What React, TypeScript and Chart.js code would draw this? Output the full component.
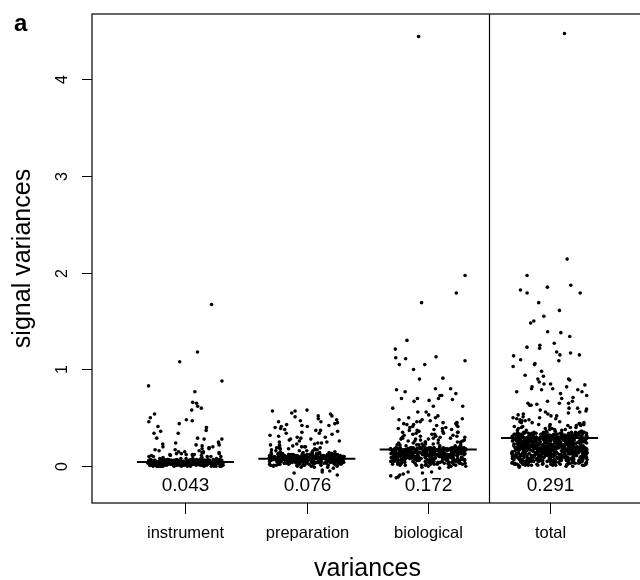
import React, { useEffect, useRef } from "react";
import { Chart, registerables } from "chart.js";

Chart.register(...registerables);

const categories = ["instrument", "preparation", "biological", "total"];
const medians = [0.043, 0.076, 0.172, 0.291];
const medianLabels = ["0.043", "0.076", "0.172", "0.291"];
const yTicks = [0, 1, 2, 3, 4];

const instrumentValues = [
  1.67, 1.18, 1.08, 0.88, 0.83, 0.77, 0.66, 0.65, 0.62, 0.6, 0.58, 0.54, 0.5, 0.48, 0.47, 0.46, 0.44, 0.41, 0.4, 0.37,
  0.36, 0.34, 0.34, 0.29, 0.29, 0.28, 0.28, 0.25, 0.24, 0.24, 0.23, 0.22, 0.22, 0.21, 0.2, 0.2, 0.19, 0.19, 0.18, 0.18,
  0.17, 0.17, 0.16, 0.16, 0.15, 0.15, 0.15, 0.14, 0.14, 0.14, 0.13, 0.13, 0.13, 0.12, 0.12, 0.12, 0.12, 0.11, 0.11, 0.11,
  0.11, 0.1, 0.1, 0.1, 0.1, 0.1,
  0.03, 0.01, 0.05, 0.02, 0.04, 0.06, 0.0, 0.03, 0.07, 0.02, 0.05, 0.01, 0.04, 0.03, 0.08, 0.02, 0.06, 0.01, 0.04, 0.05,
  0.02, 0.04, 0.0, 0.06, 0.03, 0.01, 0.05, 0.07, 0.02, 0.04, 0.03, 0.05, 0.01, 0.06, 0.02, 0.09, 0.04, 0.0, 0.03, 0.05,
  0.06, 0.02, 0.04, 0.01, 0.05, 0.03, 0.07, 0.02, 0.04, 0.06, 0.0, 0.03, 0.05, 0.02, 0.04, 0.01, 0.06, 0.03, 0.08, 0.02,
  0.04, 0.05, 0.01, 0.03, 0.06, 0.02, 0.04, 0.0, 0.05, 0.03, 0.07, 0.01, 0.04, 0.02, 0.06, 0.03, 0.05, 0.01, 0.04, 0.02,
  0.03, 0.06, 0.02, 0.05, 0.0, 0.04, 0.01, 0.07, 0.03, 0.05, 0.02, 0.04, 0.06, 0.01, 0.03, 0.08, 0.02, 0.05, 0.04, 0.0,
  0.05, 0.01, 0.04, 0.03, 0.06, 0.02, 0.05, 0.03, 0.01, 0.07, 0.04, 0.02, 0.05, 0.0, 0.03, 0.06, 0.04, 0.01, 0.02, 0.05,
  0.02, 0.04, 0.06, 0.01, 0.03, 0.05, 0.0, 0.04, 0.02, 0.06, 0.03, 0.07, 0.01, 0.05, 0.02, 0.04, 0.03, 0.09, 0.02, 0.06,
  0.04, 0.0, 0.03, 0.05, 0.02, 0.06, 0.01, 0.04, 0.03, 0.05, 0.02, 0.07, 0.04, 0.01, 0.06, 0.03, 0.0, 0.05, 0.02, 0.04,
  0.01, 0.05, 0.03, 0.02, 0.06, 0.04, 0.0, 0.03, 0.05, 0.01, 0.04, 0.02, 0.06, 0.03, 0.08, 0.01, 0.05, 0.02, 0.04, 0.03,
  0.06, 0.02, 0.04, 0.01, 0.03, 0.05, 0.02, 0.07, 0.0, 0.04, 0.03, 0.06, 0.01, 0.05, 0.02, 0.04, 0.03, 0.01, 0.06, 0.02,
  0.03, 0.05, 0.0, 0.04, 0.02, 0.06, 0.01, 0.03, 0.05, 0.04, 0.02, 0.07, 0.03, 0.0, 0.05, 0.01, 0.04, 0.06, 0.02, 0.03,
  0.05, 0.02, 0.04, 0.07, 0.01, 0.03, 0.06, 0.0, 0.04, 0.02, 0.05, 0.03, 0.01, 0.06, 0.04, 0.02, 0.08, 0.03, 0.05, 0.01,
  0.04, 0.03, 0.06, 0.02, 0.05, 0.0, 0.03, 0.04, 0.01, 0.06, 0.02, 0.05, 0.03, 0.07, 0.01, 0.04, 0.02, 0.05, 0.03, 0.06,
  0.02, 0.05, 0.03, 0.06, 0.01, 0.04, 0.07, 0.02, 0.05, 0.0, 0.03, 0.06, 0.04, 0.01, 0.05, 0.02, 0.04, 0.08, 0.03, 0.06,
  0.04, 0.01, 0.05, 0.03, 0.06, 0.02, 0.04, 0.0, 0.07, 0.03, 0.05, 0.02, 0.06, 0.04, 0.01, 0.03, 0.05, 0.02, 0.04, 0.06,
];

const preparationValues = [
  0.58, 0.57, 0.57, 0.55, 0.54, 0.52, 0.52, 0.51, 0.49, 0.48, 0.47, 0.46, 0.46, 0.45, 0.44, 0.43, 0.42, 0.42, 0.41, 0.41,
  0.4, 0.39, 0.38, 0.37, 0.37, 0.36, 0.35, 0.34, 0.34, 0.33, 0.32, 0.31, 0.3, 0.3, 0.29, 0.28, 0.28, 0.27, 0.26, 0.26,
  0.25, 0.25, 0.24, 0.24, 0.23, 0.23, 0.22, 0.22, 0.21, 0.21, 0.2, 0.2, 0.2, 0.19, 0.19, 0.19, 0.18, 0.18, 0.18, 0.17,
  0.17, 0.17, 0.16, 0.16, 0.16, 0.16,
  0.07, 0.04, 0.1, 0.02, 0.08, 0.12, 0.05, 0.09, 0.01, 0.06, 0.11, 0.03, 0.08, 0.13, 0.06, 0.0, 0.09, 0.04, 0.07, 0.14,
  0.05, 0.1, 0.02, 0.08, 0.06, 0.12, -0.01, 0.07, 0.09, 0.04, 0.11, 0.06, 0.03, 0.08, 0.15, 0.05, 0.1, 0.01, 0.07, 0.09,
  0.12, 0.06, 0.04, 0.09, 0.02, 0.08, 0.11, 0.05, 0.07, 0.13, 0.03, 0.1, 0.06, 0.08, 0.0, 0.09, 0.05, 0.12, 0.07, 0.04,
  0.08, 0.03, 0.11, 0.06, 0.09, 0.01, 0.07, 0.14, 0.05, 0.1, 0.04, 0.08, 0.12, 0.06, -0.02, 0.09, 0.07, 0.03, 0.11, 0.05,
  0.1, 0.07, 0.02, 0.08, 0.13, 0.05, 0.09, 0.06, 0.11, 0.03, 0.07, 0.1, 0.04, 0.08, 0.06, 0.12, 0.01, 0.09, 0.05, 0.07,
  0.06, 0.11, 0.08, 0.04, 0.1, 0.07, 0.02, 0.09, 0.12, 0.05, 0.08, 0.0, 0.06, 0.11, 0.07, 0.03, 0.1, 0.08, 0.14, 0.04,
  0.09, 0.05, 0.07, 0.12, 0.03, 0.08, 0.1, 0.06, 0.01, 0.09, 0.07, 0.13, 0.04, 0.08, 0.11, 0.05, 0.07, 0.02, 0.1, 0.06,
  0.04, 0.08, 0.11, 0.06, 0.09, -0.01, 0.07, 0.05, 0.12, 0.08, 0.03, 0.1, 0.06, 0.09, 0.07, 0.15, 0.04, 0.08, 0.11, 0.05,
  0.07, 0.1, 0.03, 0.09, 0.06, 0.12, 0.08, 0.02, 0.07, 0.11, 0.05, 0.09, 0.04, 0.08, 0.13, 0.06, 0.1, 0.01, 0.07, 0.09,
  0.11, 0.05, 0.08, 0.06, 0.1, 0.03, 0.09, 0.07, 0.12, 0.04, 0.08, 0.06, 0.14, 0.09, 0.0, 0.07, 0.1, 0.05, 0.08, 0.12,
  0.06, 0.09, 0.04, 0.11, 0.07, 0.08, 0.02, 0.1, 0.05, 0.09, 0.13, 0.06, 0.08, 0.03, 0.11, 0.07, 0.09, 0.04, 0.1, 0.06,
  0.08, 0.12, 0.05, 0.07, 0.1, 0.01, 0.09, 0.06, 0.11, 0.08, 0.04, 0.07, 0.12, 0.05, 0.09, 0.03, 0.08, 0.1, 0.06, 0.07,
  0.09, 0.04, 0.1, 0.07, 0.13, 0.06, 0.08, 0.02, 0.11, 0.05, 0.09, 0.07, -0.01, 0.1, 0.06, 0.08, 0.12, 0.04, 0.09, 0.07,
  0.08, 0.05, 0.11, 0.03, 0.09, 0.07, 0.13, 0.06, 0.1, 0.02, 0.08, 0.12, 0.04, 0.09, 0.06, 0.11, 0.07, 0.14, 0.05, 0.1,
  0.06, 0.09, 0.12, 0.04, 0.08, 0.01, 0.1, 0.07, 0.13, 0.05, 0.09, 0.11, 0.03, 0.08, 0.06, 0.12, 0.07, 0.1, 0.04, 0.09,
  0.11, 0.07, 0.05, 0.1, 0.08, 0.13, 0.02, 0.09, 0.06, 0.12, 0.08, 0.04, 0.11, 0.07, 0.1, 0.05, 0.09, 0.14, 0.06, 0.08,
  -0.05, -0.06, -0.09, -0.04, -0.07,
];

const biologicalValues = [
  4.44, 1.97, 1.79, 1.69, 1.3, 1.21, 1.13, 1.12, 1.11, 1.09, 1.05, 1.05, 1.0, 0.91, 0.9, 0.8, 0.8, 0.79, 0.77, 0.75,
  0.73, 0.73, 0.7, 0.7, 0.7, 0.69, 0.68, 0.67, 0.62, 0.62, 0.6, 0.56, 0.56, 0.53, 0.52, 0.5, 0.5, 0.49, 0.48, 0.48,
  0.47, 0.46, 0.46, 0.45, 0.45, 0.44, 0.44, 0.43, 0.43, 0.42, 0.42, 0.41, 0.41, 0.4, 0.4, 0.39, 0.39, 0.38, 0.38, 0.37,
  0.37, 0.36, 0.36, 0.35, 0.35, 0.35, 0.34, 0.34, 0.33, 0.33, 0.33, 0.32, 0.32, 0.31, 0.31, 0.31, 0.3, 0.3, 0.3, 0.29,
  0.29, 0.29, 0.28, 0.28, 0.28, 0.27, 0.27, 0.27, 0.26, 0.26, 0.26, 0.25, 0.25, 0.25, 0.25, 0.24, 0.24, 0.24, 0.23, 0.23,
  0.23, 0.23, 0.22, 0.22, 0.22, 0.22, 0.21, 0.21, 0.21, 0.21,
  0.1, 0.04, 0.15, 0.07, 0.18, 0.02, 0.12, 0.09, 0.16, 0.05, 0.13, 0.0, 0.11, 0.19, 0.06, 0.14, 0.08, 0.03, 0.17, 0.1,
  0.06, 0.13, 0.01, 0.16, 0.09, 0.12, 0.04, 0.18, 0.07, 0.15, 0.11, -0.01, 0.14, 0.08, 0.19, 0.05, 0.1, 0.17, 0.02, 0.12,
  0.15, 0.08, 0.11, 0.03, 0.17, 0.06, 0.13, 0.1, 0.2, 0.04, 0.14, 0.09, 0.16, 0.01, 0.12, 0.07, 0.18, 0.11, 0.05, 0.15,
  0.09, 0.16, 0.04, 0.12, 0.19, 0.07, 0.14, 0.02, 0.1, 0.17, 0.06, 0.13, 0.08, 0.15, -0.02, 0.11, 0.18, 0.05, 0.14, 0.09,
  0.13, 0.03, 0.17, 0.1, 0.06, 0.15, 0.12, 0.08, 0.19, 0.01, 0.14, 0.11, 0.05, 0.16, 0.09, 0.18, 0.04, 0.12, 0.07, 0.2,
  0.07, 0.14, 0.11, 0.18, 0.02, 0.16, 0.09, 0.13, 0.06, 0.19, 0.1, 0.03, 0.15, 0.12, 0.08, 0.17, 0.0, 0.13, 0.1, 0.16,
  0.18, 0.05, 0.12, 0.09, 0.15, 0.07, 0.19, 0.11, 0.04, 0.14, 0.17, 0.08, 0.13, 0.01, 0.16, 0.1, 0.06, 0.18, 0.12, 0.09,
  0.11, 0.16, 0.02, 0.14, 0.08, 0.17, 0.12, 0.05, 0.19, 0.1, 0.15, 0.07, 0.13, 0.18, 0.03, 0.11, 0.16, 0.09, 0.14, 0.06,
  0.16, 0.1, 0.13, 0.07, 0.18, 0.04, 0.15, 0.11, 0.19, 0.08, 0.12, 0.17, 0.0, 0.14, 0.09, 0.16, 0.06, 0.13, 0.18, 0.11,
  0.04, 0.12, 0.17, 0.09, 0.14, 0.19, 0.06, 0.15, 0.1, 0.02, 0.18, 0.13, 0.08, 0.16, 0.11, 0.05, 0.14, 0.19, 0.07, 0.12,
  0.17, 0.08, 0.15, 0.12, 0.03, 0.18, 0.1, 0.14, 0.16, 0.07, 0.13, 0.19, 0.09, 0.11, 0.17, 0.01, 0.15, 0.12, 0.08, 0.18,
  0.13, 0.19, 0.06, 0.16, 0.11, 0.14, 0.17, 0.09, 0.12, 0.18, 0.05, 0.15, 0.1, 0.19, 0.13, 0.16, 0.08, 0.17, 0.14, 0.11,
  0.14, 0.05, 0.17, 0.1, 0.19, 0.02, 0.13, 0.08, 0.16, 0.11, 0.04, 0.18, 0.07, 0.15, 0.12, 0.0, 0.17, 0.09, 0.14, 0.06,
  0.11, 0.18, 0.03, 0.15, 0.09, 0.13, 0.19, 0.06, 0.12, 0.16, 0.01, 0.14, 0.1, 0.17, 0.05, 0.12, 0.18, 0.08, 0.15, 0.11,
  0.16, 0.07, 0.13, 0.19, 0.04, 0.1, 0.15, 0.12, 0.18, 0.02, 0.14, 0.09, 0.17, 0.06, 0.13, 0.19, 0.11, 0.03, 0.16, 0.08,
  0.09, 0.15, 0.12, 0.06, 0.18, 0.14, -0.01, 0.11, 0.17, 0.07, 0.13, 0.19, 0.05, 0.16, 0.1, 0.14, 0.08, 0.18, 0.12, 0.15,
  0.12, 0.17, 0.08, 0.15, 0.19, 0.05, 0.13, 0.1, 0.18, 0.14, 0.03, 0.16, 0.11, 0.19, 0.07, 0.15, 0.12, 0.17, 0.09, 0.14,
  0.18, 0.1, 0.15, 0.06, 0.13, 0.17, 0.11, 0.19, 0.02, 0.14, 0.16, 0.08, 0.12, 0.18, 0.1, 0.15, 0.04, 0.17, 0.13, 0.11,
  0.16, 0.13, 0.19, 0.09, 0.14, 0.11, 0.17, 0.07, 0.15, 0.18, 0.12, 0.05, 0.16, 0.1, 0.19, 0.13, 0.08, 0.14, 0.17, 0.12,
  -0.06, -0.07, -0.08, -0.1, -0.12, -0.09, -0.11, -0.06,
];

const totalValues = [
  4.47, 2.14, 1.97, 1.87, 1.85, 1.82, 1.79, 1.79, 1.69, 1.61, 1.55, 1.5, 1.48, 1.39, 1.38, 1.34, 1.27, 1.25, 1.23, 1.22,
  1.18, 1.17, 1.15, 1.15, 1.14, 1.1, 1.09, 1.06, 1.05, 1.03, 0.98, 0.94, 0.93, 0.9, 0.9, 0.89, 0.87, 0.85, 0.85, 0.84,
  0.82, 0.82, 0.8, 0.8, 0.79, 0.79, 0.77, 0.77, 0.75, 0.73, 0.71, 0.7, 0.67, 0.67, 0.65, 0.65, 0.65, 0.64, 0.63, 0.63,
  0.6, 0.6, 0.59, 0.58, 0.57, 0.56, 0.56, 0.55, 0.54, 0.54, 0.53, 0.52, 0.52, 0.51, 0.5, 0.5, 0.49, 0.49, 0.48, 0.48,
  0.47, 0.47, 0.46, 0.46, 0.45, 0.45, 0.45, 0.44, 0.44, 0.43, 0.43, 0.43, 0.42, 0.42, 0.42, 0.41, 0.41, 0.41, 0.4, 0.4,
  0.4, 0.39, 0.39, 0.39, 0.38, 0.38, 0.38, 0.37, 0.37, 0.37, 0.36, 0.36, 0.36, 0.36,
  0.18, 0.07, 0.25, 0.12, 0.31, 0.03, 0.21, 0.15, 0.28, 0.09, 0.34, 0.17, 0.05, 0.23, 0.13, 0.3, 0.01, 0.19, 0.26, 0.11,
  0.22, 0.08, 0.29, 0.14, 0.33, 0.04, 0.2, 0.16, 0.27, 0.1, 0.24, 0.06, 0.32, 0.18, 0.12, 0.28, 0.02, 0.21, 0.15, 0.35,
  0.09, 0.26, 0.13, 0.3, 0.19, 0.05, 0.23, 0.11, 0.33, 0.17, 0.07, 0.25, 0.14, 0.29, 0.0, 0.2, 0.16, 0.31, 0.1, 0.24,
  0.27, 0.12, 0.21, 0.04, 0.34, 0.18, 0.08, 0.26, 0.15, 0.3, 0.11, 0.22, 0.03, 0.28, 0.17, 0.13, 0.32, 0.06, 0.24, 0.19,
  0.14, 0.31, 0.06, 0.23, 0.17, 0.27, 0.1, 0.35, 0.2, 0.02, 0.25, 0.13, 0.29, 0.08, 0.21, 0.16, 0.33, 0.12, 0.26, 0.04,
  0.2, 0.09, 0.28, 0.15, 0.32, 0.11, 0.24, 0.01, 0.19, 0.3, 0.07, 0.22, 0.14, 0.27, 0.17, 0.05, 0.34, 0.12, 0.25, 0.18,
  0.29, 0.03, 0.16, 0.26, 0.1, 0.33, 0.21, 0.13, 0.28, 0.06, 0.23, 0.18, 0.31, 0.09, 0.15, 0.25, 0.0, 0.2, 0.12, 0.3,
  0.07, 0.24, 0.17, 0.32, 0.11, 0.27, 0.04, 0.22, 0.14, 0.35, 0.19, 0.08, 0.26, 0.16, 0.29, 0.02, 0.21, 0.13, 0.31, 0.1,
  0.25, 0.15, 0.3, 0.05, 0.2, 0.12, 0.28, 0.18, 0.34, 0.08, 0.23, 0.14, 0.27, 0.03, 0.19, 0.32, 0.11, 0.24, 0.16, 0.06,
  0.31, 0.1, 0.22, 0.17, 0.26, 0.01, 0.29, 0.13, 0.21, 0.33, 0.07, 0.25, 0.18, 0.12, 0.3, 0.04, 0.23, 0.15, 0.28, 0.09,
  0.16, 0.27, 0.08, 0.32, 0.19, 0.24, 0.11, 0.35, 0.14, 0.22, 0.05, 0.29, 0.17, 0.26, 0.1, 0.31, 0.02, 0.2, 0.13, 0.25,
  0.21, 0.06, 0.3, 0.15, 0.27, 0.12, 0.23, 0.34, 0.09, 0.18, 0.28, 0.03, 0.24, 0.16, 0.32, 0.11, 0.19, 0.07, 0.26, 0.14,
  0.12, 0.29, 0.18, 0.04, 0.25, 0.2, 0.33, 0.1, 0.22, 0.15, 0.31, 0.08, 0.27, 0.13, 0.0, 0.23, 0.17, 0.3, 0.06, 0.21,
  0.26, 0.14, 0.32, 0.09, 0.19, 0.28, 0.05, 0.24, 0.16, 0.35, 0.11, 0.21, 0.02, 0.29, 0.18, 0.07, 0.25, 0.13, 0.33, 0.2,
  0.17, 0.23, 0.11, 0.3, 0.06, 0.27, 0.15, 0.2, 0.34, 0.08, 0.26, 0.12, 0.22, 0.01, 0.31, 0.19, 0.1, 0.28, 0.14, -0.01,
  0.24, 0.09, 0.31, 0.17, 0.03, 0.27, 0.13, 0.34, 0.2, 0.06, 0.29, 0.15, 0.22, 0.11, 0.32, 0.01, 0.26, 0.18, 0.08, 0.3,
  0.14, 0.33, 0.21, 0.05, 0.28, 0.12, 0.25, 0.19, 0.02, 0.35, 0.16, 0.23, 0.1, 0.3, 0.07, 0.27, 0.13, 0.2, 0.32, 0.04,
  0.19, 0.26, 0.08, 0.31, 0.15, 0.22, 0.0, 0.29, 0.12, 0.34, 0.18, 0.06, 0.25, 0.14, 0.28, 0.1, 0.33, 0.21, 0.03, 0.24,
  0.3, 0.11, 0.23, 0.17, 0.35, 0.05, 0.27, 0.16, 0.2, 0.09, 0.32, 0.13, 0.26, 0.01, 0.29, 0.19, 0.07, 0.22, 0.31, 0.15,
  0.06, 0.28, 0.14, 0.33, 0.22, 0.1, 0.25, 0.04, 0.3, 0.17, 0.12, 0.34, 0.2, 0.08, 0.27, 0.16, 0.02, 0.23, 0.29, 0.11,
  0.21, 0.32, 0.09, 0.18, 0.26, 0.05, 0.31, 0.13, 0.24, 0.35, 0.15, 0.03, 0.28, 0.19, 0.1, 0.33, 0.22, 0.07, 0.17, 0.25,
  0.15, 0.27, 0.04, 0.21, 0.32, 0.1, 0.18, 0.25, 0.07, 0.3, 0.13, 0.22, 0.02, 0.28, 0.17, 0.09, 0.33, 0.2, 0.12, 0.26,
  0.05, 0.23, 0.16, 0.29, 0.11, 0.34, 0.19, 0.08, 0.24, 0.14, 0.31, 0.03, 0.21, 0.27, 0.1, 0.18, 0.3, 0.06, 0.25, 0.13,
  0.28, 0.17, 0.09, 0.32, 0.22, 0.01, 0.26, 0.15, 0.2, 0.11, 0.29, 0.07, 0.24, 0.33, 0.14, 0.19, 0.04, 0.27, 0.12, 0.23,
  0.1, 0.31, 0.18, 0.06, 0.25, 0.13, 0.3, 0.21, 0.03, 0.16, 0.28, 0.09, 0.34, 0.19, 0.24, 0.12, 0.27, 0.05, 0.22, 0.15,
  0.33, 0.08, 0.2, 0.26, 0.14, 0.29, 0.02, 0.23, 0.17, 0.31, 0.11, 0.25, 0.07, 0.18, 0.3, 0.13, 0.21, 0.1, 0.28, 0.16,
  0.19, 0.12, 0.27, 0.04, 0.32, 0.22, 0.15, 0.09, 0.25, 0.18, 0.35, 0.06, 0.29, 0.14, 0.23, 0.01, 0.26, 0.17, 0.11, 0.31,
  0.07, 0.24, 0.13, 0.3, 0.2, 0.1, 0.28, 0.16, 0.33, 0.05, 0.22, 0.27, 0.12, 0.19, 0.08, 0.25, 0.15, 0.32, 0.03, 0.21,
  0.26, 0.16, 0.34, 0.11, 0.23, 0.07, 0.29, 0.18, 0.13, 0.24, 0.02, 0.31, 0.2, 0.15, 0.27, 0.09, 0.22, 0.14, 0.3, 0.17,
  0.12, 0.28, 0.05, 0.19, 0.25, 0.15, 0.32, 0.08, 0.21, 0.29, 0.11, 0.17, 0.26, 0.04, 0.23, 0.34, 0.13, 0.2, 0.07, 0.27,
  0.22, 0.09, 0.3, 0.17, 0.13, 0.26, 0.03, 0.24, 0.19, 0.31, 0.14, 0.28, 0.1, 0.21, 0.33, 0.06, 0.18, 0.25, 0.16, 0.29,
  0.14, 0.31, 0.21, 0.08, 0.27, 0.18, 0.12, 0.33, 0.05, 0.23, 0.16, 0.29, 0.2, 0.02, 0.26, 0.11, 0.24, 0.3, 0.15, 0.09,
  0.3, 0.18, 0.11, 0.25, 0.06, 0.22, 0.28, 0.14, 0.19, 0.35, 0.1, 0.27, 0.16, 0.23, 0.01, 0.32, 0.12, 0.2, 0.26, 0.08,
];

const seriesValues = [instrumentValues, preparationValues, biologicalValues, totalValues];

const FONT = '"Liberation Sans", Arial, Helvetica, sans-serif';

// deterministic strip-chart jitter (horizontal spread of the marks only, not data)
const hash01 = (n: number) => {
  let h = n | 0;
  h ^= h >>> 16;
  h = Math.imul(h, 0x85ebca6b);
  h ^= h >>> 13;
  h = Math.imul(h, 0xc2b2ae35);
  h ^= h >>> 16;
  return (h >>> 0) / 4294967296;
};
const jitter = (ci: number, i: number) => (hash01(i * 7919 + ci * 104729 + 17) - 0.5) * 0.62;

const decorPlugin = {
  id: "decor",
  afterDraw(chart: any) {
    const { ctx, chartArea, scales } = chart;
    const xs = scales.x;
    const ys = scales.y;
    ctx.save();
    ctx.strokeStyle = "#000";
    ctx.fillStyle = "#000";
    ctx.lineWidth = 1.2;
    ctx.strokeRect(chartArea.left, chartArea.top, chartArea.right - chartArea.left, chartArea.bottom - chartArea.top);
    const sx = Math.round(xs.getPixelForValue(3.5)) + 0.5;
    ctx.beginPath();
    ctx.moveTo(sx, chartArea.top);
    ctx.lineTo(sx, chartArea.bottom);
    ctx.stroke();

    ctx.lineWidth = 1;
    ctx.font = `16px ${FONT}`;
    yTicks.forEach((t) => {
      const y = Math.round(ys.getPixelForValue(t)) + 0.5;
      ctx.beginPath();
      ctx.moveTo(chartArea.left - 10, y);
      ctx.lineTo(chartArea.left, y);
      ctx.stroke();
      ctx.save();
      ctx.translate(63, y);
      ctx.rotate(-Math.PI / 2);
      ctx.textAlign = "center";
      ctx.textBaseline = "middle";
      ctx.fillText(String(t), 0, 0);
      ctx.restore();
    });

    categories.forEach((c, i) => {
      const x = Math.round(xs.getPixelForValue(i + 1)) + 0.5;
      ctx.beginPath();
      ctx.moveTo(x, chartArea.bottom);
      ctx.lineTo(x, chartArea.bottom + 11);
      ctx.stroke();
      ctx.font = `16.5px ${FONT}`;
      ctx.textAlign = "center";
      ctx.textBaseline = "alphabetic";
      ctx.fillText(c, x, chartArea.bottom + 35);
      ctx.font = `19px ${FONT}`;
      ctx.textBaseline = "middle";
      ctx.fillText(medianLabels[i], x, ys.getPixelForValue(-0.2));
    });

    ctx.font = `25px ${FONT}`;
    ctx.textAlign = "center";
    ctx.textBaseline = "alphabetic";
    ctx.fillText("variances", (chartArea.left + chartArea.right) / 2, 576);
    ctx.save();
    ctx.translate(23, (chartArea.top + chartArea.bottom) / 2);
    ctx.rotate(-Math.PI / 2);
    ctx.textBaseline = "middle";
    ctx.fillText("signal variances", 0, 0);
    ctx.restore();

    ctx.font = `bold 24px ${FONT}`;
    ctx.textAlign = "left";
    ctx.textBaseline = "alphabetic";
    ctx.fillText("a", 14, 31);
    ctx.restore();
  },
};

export default function App() {
  const canvasRef = useRef<HTMLCanvasElement | null>(null);

  useEffect(() => {
    const canvas = canvasRef.current;
    if (!canvas) return;

    const pointSets = seriesValues.map((vals, ci) => ({
      label: categories[ci],
      data: vals.map((v, i) => ({ x: ci + 1 + jitter(ci, i), y: v })),
      pointRadius: 1.8,
      pointHoverRadius: 1.8,
      backgroundColor: "#000",
      borderColor: "#000",
      borderWidth: 0,
      showLine: false,
      order: 2,
    }));

    const medianSets = medians.map((m, ci) => ({
      label: categories[ci] + " median",
      data: [
        { x: ci + 1 - 0.4, y: m },
        { x: ci + 1 + 0.4, y: m },
      ],
      showLine: true,
      borderColor: "#000",
      borderWidth: 2,
      pointRadius: 0,
      order: 1,
    }));

    const chart = new Chart(canvas, {
      type: "scatter",
      data: { datasets: [...pointSets, ...medianSets] as any },
      options: {
        animation: false,
        responsive: false,
        devicePixelRatio: 1,
        layout: { padding: { left: 92, right: 17, top: 14, bottom: 77 } },
        scales: {
          x: { type: "linear", min: 0.23, max: 4.77, display: false },
          y: { type: "linear", min: -0.38, max: 4.672, display: false },
        },
        plugins: {
          legend: { display: false },
          tooltip: { enabled: false },
        },
      },
      plugins: [decorPlugin],
    });

    return () => chart.destroy();
  }, []);

  return (
    <div
      style={{
        position: "fixed",
        left: 0,
        top: 0,
        width: 640,
        height: 580,
        overflow: "hidden",
        background: "#fff",
      }}
    >
      <canvas ref={canvasRef} width={660} height={580} style={{ display: "block" }} />
    </div>
  );
}
